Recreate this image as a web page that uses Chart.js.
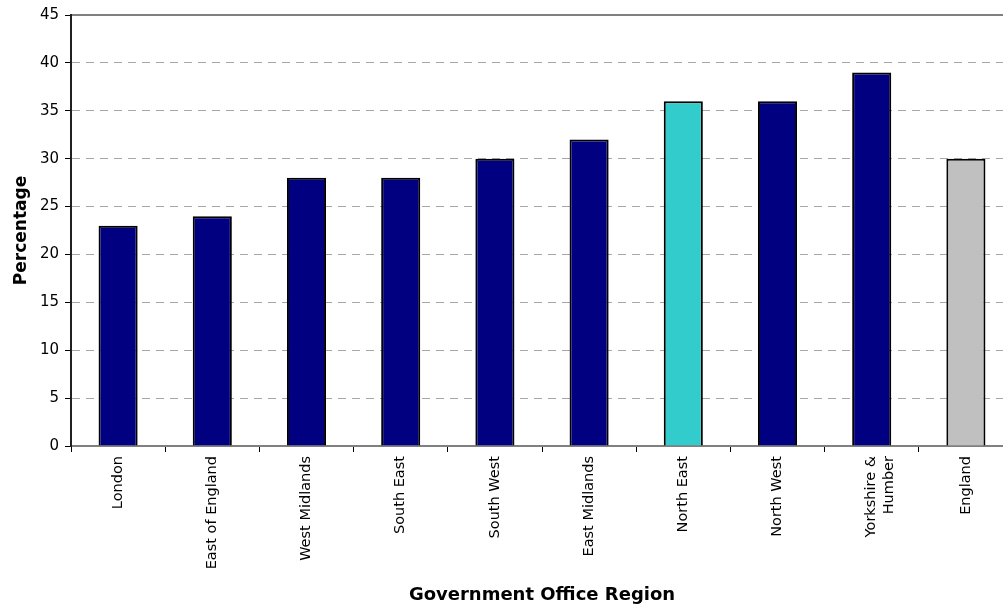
<!DOCTYPE html>
<html>
<head>
<meta charset="utf-8">
<script src="https://cdn.jsdelivr.net/npm/chart.js@4"></script>
<style>
html,body{margin:0;padding:0;background:#fff;overflow:hidden;width:1003px;height:606px;}
#wrap{position:absolute;left:0;top:0;width:1013px;height:606px;}
</style>
</head>
<body>
<div id="wrap"><canvas id="c" width="1013" height="606"></canvas></div>
<script>
const categories = ["London","East of England","West Midlands","South East","South West","East Midlands","North East","North West",["Yorkshire &","Humber"],"England"];
const values = [23,24,28,28,30,32,36,36,39,30];
const barColors = ["#000080","#000080","#000080","#000080","#000080","#000080","#33CCCC","#000080","#000080","#C0C0C0"];
const yTicks = [0,5,10,15,20,25,30,35,40,45];

const FONT = "DejaVu Sans";
new Chart(document.getElementById('c'), {
  type: 'bar',
  data: {
    labels: categories,
    datasets: [{
      data: values,
      backgroundColor: barColors,
      borderColor: '#000000',
      borderWidth: 2,
      categoryPercentage: 1.0,
      barPercentage: 0.415
    }]
  },
  options: {
    responsive: false,
    animation: false,
    devicePixelRatio: 1,
    layout: { padding: { top: 15, left: 0, right: 0, bottom: 0 } },
    plugins: { legend: { display: false }, tooltip: { enabled: false } },
    scales: {
      x: {
        offset: true,
        grid: { offset: true, drawOnChartArea: false, drawTicks: true, tickLength: 6, color: '#000000', lineWidth: 1 },
        border: { display: true, color: '#808080', width: 2 },
        ticks: { maxRotation: 90, minRotation: 90, color: '#000000', font: { family: FONT, size: 14.5 }, padding: 4, autoSkip: false },
        title: { display: true, text: 'Government Office Region', color: '#000000', font: { family: FONT, size: 18, weight: 'bold' }, padding: { top: 0, bottom: 0 } },
        afterFit: (s) => { s.height = 160; }
      },
      xTop: {
        type: 'category',
        position: 'top',
        offset: true,
        grid: { display: false, drawTicks: false },
        border: { display: true, color: '#808080', width: 2 },
        ticks: { display: false },
        afterFit: (s) => { s.height = 0; }
      },
      y: {
        min: 0, max: 45,
        afterBuildTicks: (s) => { s.ticks = yTicks.map(v => ({ value: v })); },
        grid: {
          color: (ctx) => ctx.tick && ctx.tick.value === 45 ? 'rgba(0,0,0,0)' : '#A8A8A8',
          lineWidth: 1,
          drawTicks: true, tickLength: 6,
          tickColor: '#000000',
          tickBorderDash: [0,0]
        },
        border: { display: true, color: '#202020', width: 2, dash: [8,6] },
        ticks: { color: '#000000', font: { family: FONT, size: 15 }, padding: 6 },
        title: { display: true, text: 'Percentage', color: '#000000', font: { family: FONT, size: 17, weight: 'bold' }, padding: { top: 11, bottom: 0 } },
        afterFit: (s) => { s.width = 71; }
      }
    }
  }
});
</script>
</body>
</html>
